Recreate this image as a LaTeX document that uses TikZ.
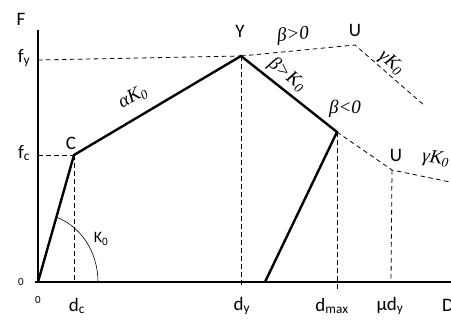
\documentclass[tikz,border=0pt]{standalone}
\usepackage{fontspec}
\setmainfont{Carlito}
\newfontfamily\serif{Liberation Serif}
\begin{document}
\begin{tikzpicture}[x=1pt,y=-1pt,
  axisline/.style={line width=1.3pt},
  curve/.style={line width=2.4pt},
  dashline/.style={line width=0.8pt,dash pattern=on 4.5pt off 3.5pt},
  lbl/.style={inner sep=0pt,font=\fontsize{19}{19}\selectfont},
  small/.style={inner sep=0pt,font=\fontsize{11}{11}\selectfont},
  glbl/.style={inner sep=0pt,font=\serif\itshape\fontsize{19}{19}\selectfont}]
\useasboundingbox (0,0) rectangle (451,325);
% key points
\coordinate (O) at (38,282);
\coordinate (C) at (74,155);
\coordinate (Y) at (241,56);
\coordinate (B) at (337,132);
\coordinate (R) at (265,282);
\coordinate (U1) at (355,45);
\coordinate (G1) at (425,106);
\coordinate (U2) at (392,170);
\coordinate (G2) at (455,183);
\coordinate (ytop) at (38,30);
\coordinate (xl) at (35,282);
\coordinate (xr) at (451,282);
\coordinate (fy) at (38,60);
\coordinate (fc) at (38,155);
\coordinate (dc) at (74,282);
\coordinate (dy) at (241,288);
\coordinate (dm) at (337,290);
\coordinate (mu) at (391,282);
% axes
\draw[axisline] (ytop) -- (O);
\draw[axisline] (xl) -- (xr);
% dashed helpers
\draw[dashline] (fy) -- (Y);
\draw[dashline] (fc) -- (C);
\draw[dashline] (C) -- (dc);
\draw[dashline] (Y) -- (dy);
\draw[dashline] (B) -- (dm);
\draw[dashline] (U2) -- (mu);
\draw[dashline] (Y) -- (U1) -- (G1);
\draw[dashline] (B) -- (U2) -- (G2);
% curve
\draw[curve,line join=miter] (O) -- (C) -- (Y) -- (B) -- (R);
% arc K0
\draw[line width=0.6pt] ([shift={(60pt,0pt)}]O) arc[start angle=0,end angle=72,x radius=60pt,y radius=68pt];
% labels
\node[lbl] (lF) at (21,19) {F};
\node[lbl] (lfy) at (24,58) {f\textsubscript{y}};
\node[lbl] (lfc) at (24,153) {f\textsubscript{c}};
\node[lbl] (lC) at (71,143) {C};
\node[lbl] (lY) at (240,31) {Y};
\node[lbl] (lU1) at (355,30) {U};
\node[lbl] (lU2) at (396,155) {U};
\node[small] (l0a) at (21,282) {0};
\node[small] (l0b) at (38,300) {0};
\node[lbl] (ldc) at (77,306) {d\textsubscript{c}};
\node[lbl] (ldy) at (242,306) {d\textsubscript{y}};
\node[lbl] (ldm) at (332,306) {d\textsubscript{max}};
\node[lbl] (lmu) at (390,306) {\textmu d\textsubscript{y}};
\node[lbl,anchor=west] (lD) at (442,305) {D};
\node[inner sep=0pt,font=\fontsize{16}{16}\selectfont] (lK) at (101,239) {K\textsubscript{0}};
\node[glbl,rotate=28] (la) at (133,97) {αK\textsubscript{0}};
\node[glbl,rotate=5] (lb1) at (293,35) {β>0};
\node[glbl,rotate=-38] (lb2) at (287,75) {β>K\textsubscript{0}};
\node[glbl] (lb3) at (345,109) {β<0};
\node[glbl,rotate=-40] (lg1) at (391,63) {γK\textsubscript{0}};
\node[glbl,rotate=-8,anchor=west] (lg2) at (422,157) {γK\textsubscript{0}};
\end{tikzpicture}
\end{document}
